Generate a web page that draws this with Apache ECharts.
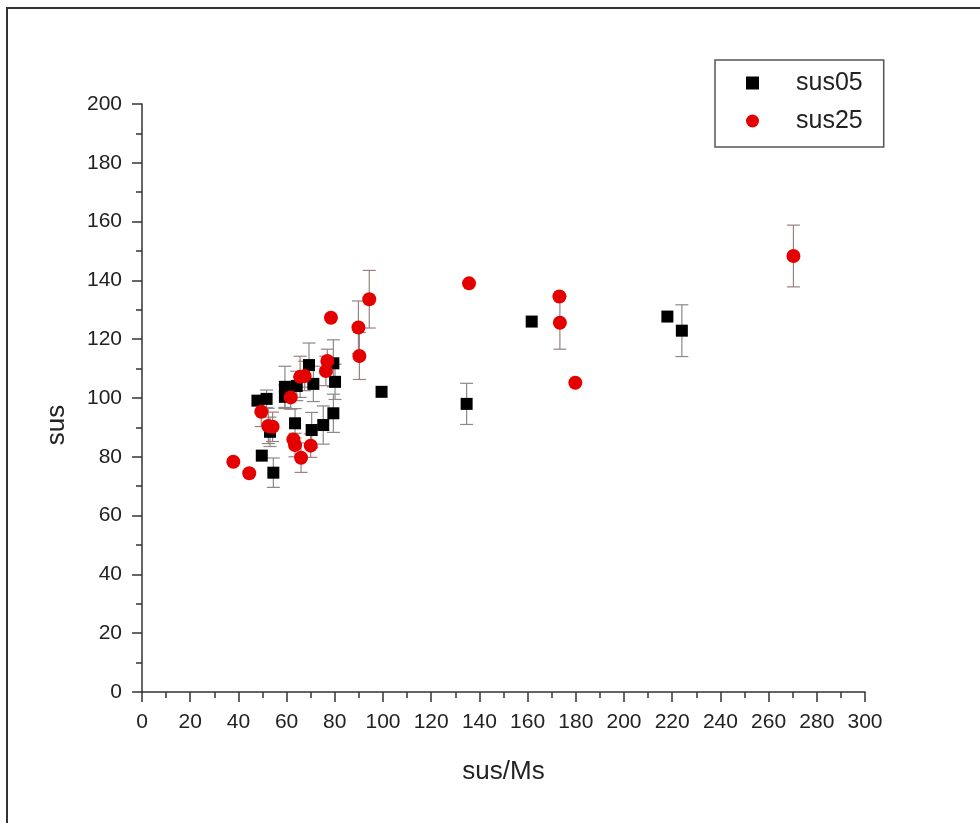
<!DOCTYPE html>
<html><head><meta charset="utf-8">
<script src="https://cdn.jsdelivr.net/npm/echarts@6/dist/echarts.min.js"></script>
<style>html,body{margin:0;padding:0;background:#fff}#c{width:980px;height:823px}</style>
</head><body><div id="c"></div>
<script>
// sus05 series (black squares)
const sus05X   = [69.3, 79.4, 80.1, 59.3, 64.2, 71.1, 59.3, 47.9, 51.7, 63.5, 53.1, 70.4, 75.2, 79.4, 49.7, 54.5, 99.4, 134.7, 161.7, 218.0, 224.0];
const sus05Y   = [111.2, 111.8, 105.5, 103.8, 104.1, 104.8, 100.4, 99.1, 99.7, 91.4, 88.5, 89.1, 90.8, 94.8, 80.4, 74.6, 102.1, 98.0, 126.0, 127.7, 122.9];
const sus05Err = [7.5, 8, 6, 7, 5, 6, 4, 0, 3, 5, 5, 6, 6.5, 6.5, 0, 5, 0, 7, 0, 0, 8.8];
// sus25 series (red circles)
const sus25X   = [94.3, 89.8, 90.2, 135.7, 173.2, 173.4, 179.8, 78.4, 76.9, 76.3, 65.6, 67.5, 61.7, 49.5, 52.4, 54.2, 62.8, 63.5, 70.0, 66.0, 37.9, 44.5, 270.3];
const sus25Y   = [133.6, 124.0, 114.3, 139.0, 134.5, 125.6, 105.2, 127.3, 112.6, 109.2, 107.2, 107.5, 100.2, 95.3, 90.5, 90.2, 85.9, 84.0, 83.8, 79.7, 78.3, 74.4, 148.3];
const sus25Err = [9.8, 9, 8, 0, 0, 9, 0, 0, 4, 5, 7, 5, 4, 5, 6, 5, 0, 4, 4, 5, 0, 0, 10.5];
// axis ticks
const xTicks = {min: 0, max: 300, step: 20};
const yTicks = {min: 0, max: 200, step: 20};

function zipData(xs, ys, es) { return xs.map((x, i) => [x, ys[i], es[i]]); }

function errRender(color) {
  return function (params, api) {
    const x = api.value(0), y = api.value(1), e = api.value(2);
    if (!e) return null;
    const t = api.coord([x, y + e]), b = api.coord([x, y - e]);
    const w = 6.5;
    const st = {stroke: color, lineWidth: 1.2};
    return {type: 'group', children: [
      {type: 'line', shape: {x1: t[0], y1: t[1], x2: b[0], y2: b[1]}, style: st},
      {type: 'line', shape: {x1: t[0] - w, y1: t[1], x2: t[0] + w, y2: t[1]}, style: st},
      {type: 'line', shape: {x1: b[0] - w, y1: b[1], x2: b[0] + w, y2: b[1]}, style: st}
    ]};
  };
}

const FONT = '"Liberation Sans", Arial, sans-serif';
const axisCommon = {
  type: 'value',
  axisLine: {show: true, lineStyle: {color: '#333', width: 1.5}},
  axisTick: {show: true, inside: false, length: 10, lineStyle: {color: '#333', width: 1.5}},
  minorTick: {show: true, splitNumber: 2, length: 6, lineStyle: {color: '#333', width: 1.5}},
  splitLine: {show: false},
  minorSplitLine: {show: false},
  axisLabel: {fontSize: 21, color: '#222', fontFamily: FONT},
  nameLocation: 'middle',
  nameTextStyle: {fontSize: 26, color: '#222', fontFamily: FONT}
};

const chart = echarts.init(document.getElementById('c'), null, {renderer: 'canvas'});
chart.setOption({
  backgroundColor: '#fff',
  animation: false,
  graphic: [{type: 'rect', shape: {x: 7, y: 8, width: 1100, height: 1000}, style: {fill: 'none', stroke: '#333', lineWidth: 2}, z: 100, silent: true}],
  grid: {left: 142, top: 104, right: 115, bottom: 131, containLabel: false},
  xAxis: Object.assign({}, axisCommon, {
    min: xTicks.min, max: xTicks.max, interval: xTicks.step,
    name: 'sus/Ms', nameGap: 67,
    axisLabel: Object.assign({}, axisCommon.axisLabel, {margin: 20})
  }),
  yAxis: Object.assign({}, axisCommon, {
    min: yTicks.min, max: yTicks.max, interval: yTicks.step,
    name: 'sus', nameGap: 72, nameRotate: 90,
    nameTextStyle: Object.assign({}, axisCommon.nameTextStyle, {padding: [0, 54, 0, 0]}),
    axisLabel: Object.assign({}, axisCommon.axisLabel, {margin: 20})
  }),
  legend: {
    data: [{name: 'sus05', icon: 'rect'}, {name: 'sus25', icon: 'circle'}],
    orient: 'vertical', left: 715, top: 60,
    itemWidth: 13, itemHeight: 13, itemGap: 8,
    padding: [8, 21, 11, 31],
    borderColor: '#555', borderWidth: 1.5, backgroundColor: '#fff',
    textStyle: {fontSize: 25, color: '#222', fontFamily: FONT, lineHeight: 30, padding: [0, 0, 0, 32]}
  },
  series: [
    {name: 'sus05err', type: 'custom', renderItem: errRender('#8a8a8a'), data: zipData(sus05X, sus05Y, sus05Err), encode: {x: 0, y: 1}, z: 1, silent: true},
    {name: 'sus25err', type: 'custom', renderItem: errRender('#9a8080'), data: zipData(sus25X, sus25Y, sus25Err), encode: {x: 0, y: 1}, z: 1, silent: true},
    {name: 'sus05', type: 'scatter', symbol: 'rect', symbolSize: 12, itemStyle: {color: '#000', opacity: 1}, data: zipData(sus05X, sus05Y, sus05Err), z: 3},
    {name: 'sus25', type: 'scatter', symbol: 'circle', symbolSize: 14, itemStyle: {color: '#e50000', opacity: 1}, data: zipData(sus25X, sus25Y, sus25Err), z: 4}
  ]
});
</script>
</body></html>
